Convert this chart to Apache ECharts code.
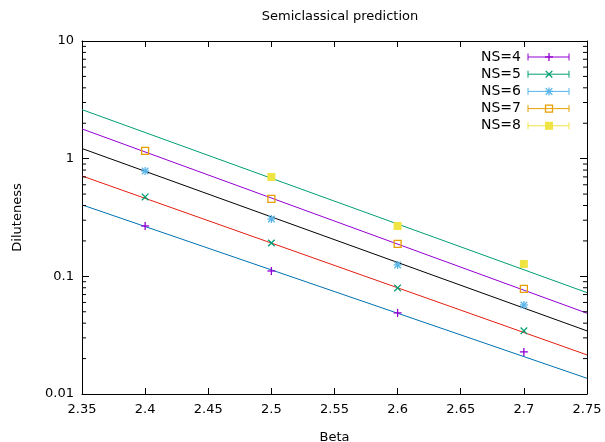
<!DOCTYPE html>
<html>
<head>
<meta charset="utf-8">
<script src="https://cdn.jsdelivr.net/npm/echarts@6/dist/echarts.min.js"></script>
<style>html,body{margin:0;padding:0;background:#fff;overflow:hidden}#c{width:605px;height:442px}</style>
</head>
<body>
<div id="c"></div>
<script>
// ---- data ----
const betas = [2.4, 2.5, 2.6, 2.7];
const ns4 = [0.268, 0.111, 0.0489, 0.0228];
const ns5 = [0.473, 0.192, 0.0797, 0.0344];
const ns6 = [0.786, 0.307, 0.125, 0.0571];
const ns7 = [1.163, 0.455, 0.1885, 0.0782];
const ns8 = [null, 0.699, 0.268, 0.1274];
const seriesNames = ['NS=4', 'NS=5', 'NS=6', 'NS=7', 'NS=8'];

const fitX = [2.35, 2.75];
const fitGreen = [2.61, 0.0727];
const fitPurple = [1.79, 0.0486];
const fitBlack = [1.22, 0.0344];
const fitRed = [0.713, 0.0215];
const fitBlue = [0.405, 0.0136];

const xTicks = [2.35, 2.4, 2.45, 2.5, 2.55, 2.6, 2.65, 2.7, 2.75];
const yMinorTicks = [];
[0.01, 0.1, 1].forEach(d => { for (let k = 2; k <= 9; k++) yMinorTicks.push(+(d * k).toPrecision(3)); });

// ---- styles ----
const FONT = 'DejaVu Sans';
const markerColors = ['#9400d3', '#009e73', '#56b4e9', '#e69f00', '#f0e442'];
const markerKinds = ['plus', 'cross', 'star', 'box', 'fbox'];
const fitColors = ['#009e73', '#9400d3', '#000000', '#e51e10', '#0072b2'];
const fits = [fitGreen, fitPurple, fitBlack, fitRed, fitBlue];
const nsData = [ns4, ns5, ns6, ns7, ns8];

function markerShapes(kind, x, y, color) {
  const h = 4, d = 3.3, b = 3.5;
  const st = { stroke: color, lineWidth: 1.3, fill: null };
  const out = [];
  const L = (x1, y1, x2, y2) => out.push({ type: 'line', shape: { x1, y1, x2, y2 }, style: st });
  if (kind === 'plus' || kind === 'star') { L(x - h, y, x + h, y); L(x, y - h, x, y + h); }
  if (kind === 'cross' || kind === 'star') { L(x - d, y - d, x + d, y + d); L(x - d, y + d, x + d, y - d); }
  if (kind === 'box') out.push({ type: 'rect', shape: { x: x - b, y: y - b, width: 2 * b, height: 2 * b }, style: { stroke: color, lineWidth: 1.3, fill: null } });
  if (kind === 'fbox') out.push({ type: 'rect', shape: { x: x - b - 0.5, y: y - b - 0.5, width: 2 * b + 1, height: 2 * b + 1 }, style: { fill: color, stroke: null } });
  return out;
}

const series = [];
fits.forEach((f, i) => {
  series.push({
    type: 'line', xAxisIndex: 0, yAxisIndex: 0, silent: true, symbol: 'none',
    lineStyle: { color: fitColors[i], width: 1 },
    data: fitX.map((x, j) => [x, f[j]]), z: 2
  });
});
nsData.forEach((arr, i) => {
  series.push({
    type: 'custom', name: seriesNames[i], xAxisIndex: 0, yAxisIndex: 0, z: 3,
    data: betas.map((b, j) => [b, arr[j]]).filter(p => p[1] != null),
    renderItem: (params, api) => {
      const p = api.coord([api.value(0), api.value(1)]);
      return { type: 'group', children: markerShapes(markerKinds[i], p[0], p[1], markerColors[i]) };
    }
  });
});
// minor log ticks on left and right frame
series.push({
  type: 'custom', xAxisIndex: 0, yAxisIndex: 0, silent: true, z: 4,
  data: yMinorTicks.map(v => [xTicks[0], v]),
  renderItem: (params, api) => {
    const v = api.value(1);
    const pl = api.coord([xTicks[0], v]);
    const pr = api.coord([xTicks[xTicks.length - 1], v]);
    const st = { stroke: '#000', lineWidth: 1 };
    return { type: 'group', children: [
      { type: 'line', shape: { x1: pl[0], y1: pl[1], x2: pl[0] + 4, y2: pl[1] }, style: st },
      { type: 'line', shape: { x1: pr[0] - 4, y1: pr[1], x2: pr[0], y2: pr[1] }, style: st }
    ] };
  }
});

// legend (key) drawn at top right
const legendEls = [];
seriesNames.forEach((n, i) => {
  const y = 57 + i * 17.2;
  const c = markerColors[i];
  legendEls.push({ type: 'text', x: 521, y: y, style: { text: n, font: '14px "DejaVu Sans"', fill: '#000', align: 'right', verticalAlign: 'middle' } });
  legendEls.push({ type: 'line', shape: { x1: 528, y1: y, x2: 569, y2: y }, style: { stroke: c, lineWidth: 1 } });
  legendEls.push({ type: 'line', shape: { x1: 528, y1: y - 3.5, x2: 528, y2: y + 3.5 }, style: { stroke: c, lineWidth: 1 } });
  legendEls.push({ type: 'line', shape: { x1: 569, y1: y - 3.5, x2: 569, y2: y + 3.5 }, style: { stroke: c, lineWidth: 1 } });
  markerShapes(markerKinds[i], 549, y, c).forEach(s => legendEls.push(s));
});

const axisLine = { show: true, lineStyle: { color: '#000', width: 1 } };
const option = {
  animation: false,
  backgroundColor: '#fff',
  title: {
    text: 'Semiclassical prediction', left: 335, top: 5, textAlign: 'center',
    textStyle: { fontFamily: FONT, fontSize: 13, fontWeight: 'normal', color: '#000' }
  },
  grid: { left: 82, right: 18, top: 41, bottom: 48, containLabel: false, outerBoundsMode: 'none' },
  xAxis: [{
    type: 'value', min: 2.35, max: 2.75, interval: 0.05, position: 'bottom',
    name: 'Beta', nameLocation: 'middle', nameGap: 37,
    nameTextStyle: { fontFamily: FONT, fontSize: 13, color: '#000' },
    axisLine, axisTick: { show: true, inside: true, length: 6, lineStyle: { color: '#000' } },
    axisLabel: { fontFamily: FONT, fontSize: 13, color: '#000', margin: 9 },
    splitLine: { show: false }
  }, {
    type: 'value', min: 2.35, max: 2.75, interval: 0.05, position: 'top',
    axisLine, axisTick: { show: true, inside: true, length: 6, lineStyle: { color: '#000' } },
    axisLabel: { show: false }, splitLine: { show: false }
  }],
  yAxis: [{
    type: 'log', logBase: 10, min: 0.01, max: 10, position: 'left',
    name: 'Diluteness', nameLocation: 'middle', nameGap: 58,
    nameTextStyle: { fontFamily: FONT, fontSize: 13, color: '#000' },
    axisLine, axisTick: { show: true, inside: true, length: 7, lineStyle: { color: '#000' } },
    axisLabel: { fontFamily: FONT, fontSize: 13, color: '#000', margin: 8 },
    splitLine: { show: false }
  }, {
    type: 'log', logBase: 10, min: 0.01, max: 10, position: 'right',
    axisLine, axisTick: { show: true, inside: true, length: 7, lineStyle: { color: '#000' } },
    axisLabel: { show: false }, splitLine: { show: false }
  }],
  series,
  graphic: legendEls
};
const chart = echarts.init(document.getElementById('c'), null, { renderer: 'canvas', width: 605, height: 442 });
chart.setOption(option);
</script>
</body>
</html>
